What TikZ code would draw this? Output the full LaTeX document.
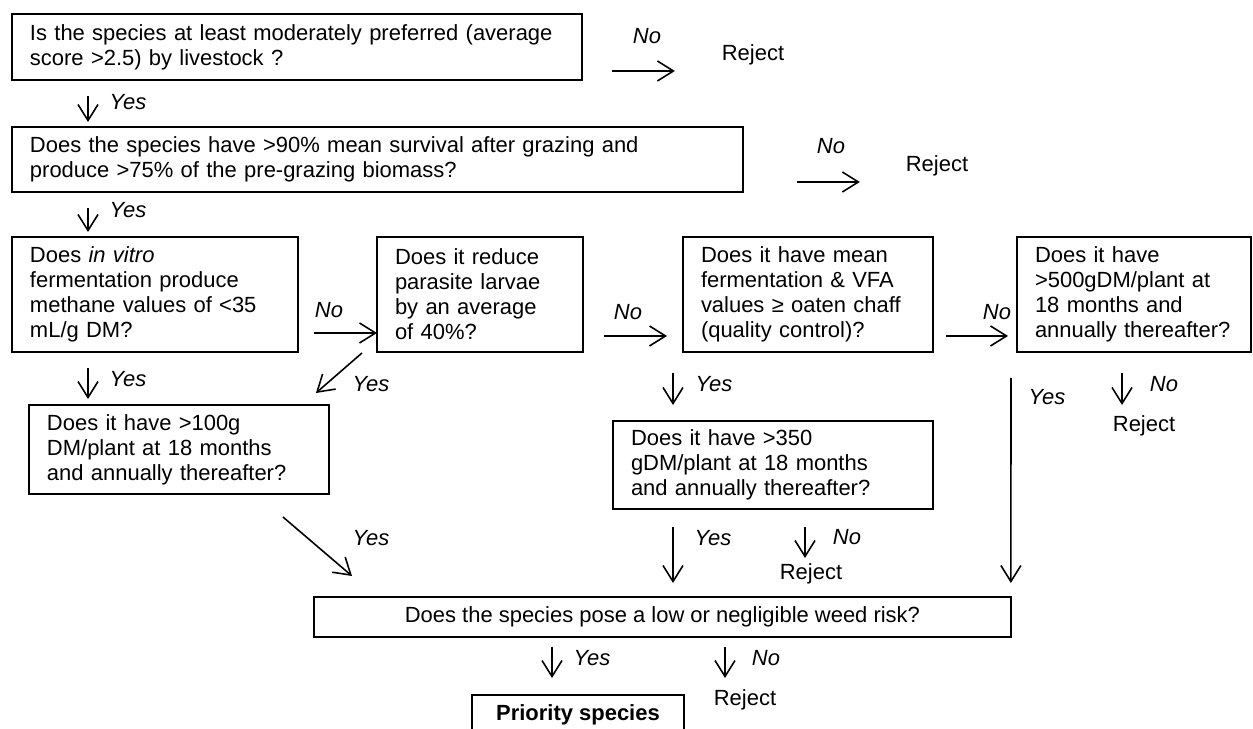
\documentclass[tikz,border=0pt]{standalone}
\usepackage{fontspec}
\setmainfont{Liberation Sans}
\usetikzlibrary{arrows.meta,positioning,calc}

\begin{document}
\begin{tikzpicture}[
  x=0.02cm, y=-0.02cm,
  font=\fontsize{12.5}{14.2}\selectfont,
  qbox/.style={draw, line width=1pt, anchor=north west, align=left,
               inner xsep=0.36cm, inner ysep=0pt, outer sep=0pt},
  lbl/.style={font=\fontsize{12.5}{14.2}\selectfont\itshape, inner sep=0pt},
  reject/.style={inner sep=0pt},
  arrow/.style={line width=0.9pt, -{Straight Barb[length=0.32cm, width=0.4cm]}}
]
  \useasboundingbox (0,0) rectangle (1253,729);
  \clip (0,0) rectangle (1253,729);

  % question boxes
  \node[qbox, text width=10.68cm, minimum height=1.32cm] (q1) at (12,14)
    {Is the species at least moderately preferred (average\\score >2.5) by livestock ?};
  \node[qbox, text width=13.9cm, minimum height=1.3cm] (q2) at (12,127)
    {Does the species have >90\% mean survival after grazing and\\produce >75\% of the pre-grazing biomass?};
  \node[qbox, text width=5cm, minimum height=2.3cm] (q3) at (12,237)
    {Does \textit{in vitro}\\fermentation produce\\methane values of <35\\mL/g DM?};
  \node[qbox, text width=3.4cm, minimum height=2.3cm] (q4) at (377,237)
    {Does it reduce\\parasite larvae\\by an average\\of 40\%?};
  \node[qbox, text width=4.28cm, minimum height=2.3cm] (q6) at (683,237)
    {Does it have mean\\fermentation \& VFA\\values ≥ oaten chaff\\(quality control)?};
  \node[qbox, text width=3.96cm, minimum height=2.3cm] (q8) at (1017,237)
    {Does it have\\>500gDM/plant at\\18 months and\\annually thereafter?};
  \node[qbox, text width=5.28cm, minimum height=1.78cm] (q5) at (29,405)
    {Does it have >100g\\DM/plant at 18 months\\and annually thereafter?};
  \node[qbox, text width=5.68cm, minimum height=1.76cm] (q7) at (613,421)
    {Does it have >350\\gDM/plant at 18 months\\and annually thereafter?};
  \node[qbox, align=center, minimum width=13.94cm, minimum height=0.8cm] (q9) at (314,597)
    {Does the species pose a low or negligible weed risk?};
  \node[qbox, align=center, minimum width=4.24cm, minimum height=0.8cm,
        font=\fontsize{12.5}{14.2}\selectfont\bfseries] (prio) at (472,695) {Priority species};

  % rejects
  \node[reject] (r1) at (753,55) {Reject};
  \node[reject] (r2) at (937,166) {Reject};
  \node[reject] (r8) at (1144,426) {Reject};
  \node[reject] (r7) at (811,574) {Reject};
  \node[reject] (r9) at (745,700) {Reject};

  % answers
  \node[lbl] (no1) at (647,36) {No};
  \node[lbl] (yes1) at (128,102) {Yes};
  \node[lbl] (no2) at (831,146) {No};
  \node[lbl] (yes2) at (128,210) {Yes};
  \node[lbl] (no3) at (329,310) {No};
  \node[lbl] (yes3) at (128,379) {Yes};
  \node[lbl] (yes4) at (371,384) {Yes};
  \node[lbl] (no4) at (628,312) {No};
  \node[lbl] (yes5) at (714,384) {Yes};
  \node[lbl] (no5) at (997,312) {No};
  \node[lbl] (yes6) at (1047,397) {Yes};
  \node[lbl] (no6) at (1164,384) {No};
  \node[lbl] (yes7) at (371,538) {Yes};
  \node[lbl] (yes8) at (713,538) {Yes};
  \node[lbl] (no7) at (847,537) {No};
  \node[lbl] (yes9) at (592,658) {Yes};
  \node[lbl] (no9) at (766,658) {No};

  % connectors
  \draw[arrow] ($(q1.south east)+(30,-9)$) -- ++(63,0);
  \draw[arrow] ($(q1.south west)+(76,16)$) -- ($(q2.north west)+(76,-5)$);
  \draw[arrow] ($(q2.south east)+(54,-10)$) -- ++(63,0);
  \draw[arrow] ($(q2.south west)+(76,16)$) -- ($(q3.north west)+(76,-5)$);
  \draw[arrow] ($(q3.south east)+(16,-19)$) -- ($(q4.south west)+(0,-19)$);
  \draw[arrow] ($(q4.south west)+(-15,1)$) -- ($(q5.north east)+(-13,-12)$);
  \draw[arrow] ($(q3.south west)+(76,16)$) -- ($(q5.north west)+(59,-6)$);
  \draw[arrow] ($(q4.south east)+(21,-16)$) -- ($(q6.south west)+(-16,-16)$);
  \draw[arrow] ($(q6.south east)+(13,-16)$) -- ($(q8.south west)+(-9,-16)$);
  \draw[arrow] ($(q6.south west)+(-10,21)$) -- ($(q7.north west)+(60,-16)$);
  \draw[arrow] ($(q8.south west)+(105,21)$) -- ++(0,32);
  \draw[arrow] ($(q8.south west)+(-6,26)$) -- ($(q9.north east)+(0,-14)$);
  \draw[arrow] ($(q5.south east)+(-46,23)$) -- ($(q9.north west)+(38,-21)$);
  \draw[arrow] ($(q7.south west)+(60,18)$) -- ($(q9.north west)+(359,-14)$);
  \draw[arrow] ($(q7.south west)+(192,18)$) -- ++(0,31);
  \draw[arrow] ($(q9.south west)+(238,10)$) -- ($(prio.north west)+(80,-17)$);
  \draw[arrow] ($(q9.south west)+(411,10)$) -- ++(0,31);
\end{tikzpicture}
\end{document}
